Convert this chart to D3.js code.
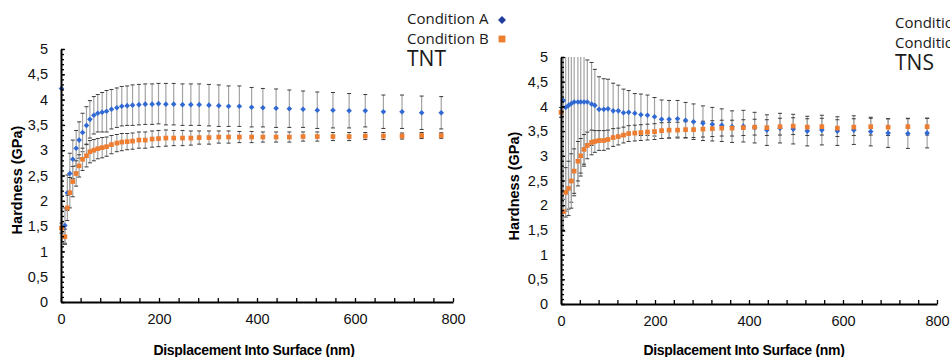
<!DOCTYPE html>
<html>
<head>
<meta charset="utf-8">
<script src="https://cdn.jsdelivr.net/npm/d3@7"></script>
<style>
  body { margin: 0; background: #fff; }
  svg { display: block; }
</style>
</head>
<body>
<div id="chart"></div>
<script>
// values (nm, GPa)
const depthTNT = [1, 8, 13, 18, 24, 31, 37, 44, 52, 59, 67, 75, 84, 93, 103, 114, 124, 135, 146, 159, 172, 186, 199,
  214, 230, 248, 265, 282, 302, 322, 342, 364, 389, 412, 439, 466, 494, 523, 555, 588, 621, 658, 696, 736, 776]
const tntA = [4.22, 1.51, 2.16, 2.54, 2.82, 3.04, 3.20, 3.35, 3.49, 3.61, 3.69, 3.73, 3.75, 3.77, 3.81, 3.84, 3.87, 3.88, 3.89, 3.90, 3.91, 3.91, 3.92,
  3.91, 3.91, 3.90, 3.90, 3.90, 3.89, 3.88, 3.87, 3.87, 3.85, 3.84, 3.83, 3.82, 3.81, 3.79, 3.79, 3.78, 3.78, 3.76, 3.76, 3.74, 3.74]
const tntAErr = [0, 0.35, 0.35, 0.4, 0.38, 0.35, 0.36, 0.38, 0.37, 0.37, 0.37, 0.37, 0.39, 0.41, 0.39, 0.39, 0.39, 0.39, 0.4, 0.4, 0.4, 0.4, 0.4,
  0.41, 0.41, 0.41, 0.41, 0.41, 0.41, 0.41, 0.4, 0.4, 0.39, 0.38, 0.38, 0.37, 0.36, 0.36, 0.35, 0.34, 0.32, 0.33, 0.33, 0.33, 0.32]
const tntB = [1.46, 1.29, 1.86, 2.16, 2.38, 2.54, 2.69, 2.82, 2.89, 2.97, 3.00, 3.03, 3.05, 3.07, 3.11, 3.14, 3.16, 3.17, 3.18, 3.20, 3.20, 3.22, 3.23,
  3.24, 3.24, 3.24, 3.24, 3.25, 3.25, 3.26, 3.26, 3.26, 3.26, 3.26, 3.26, 3.26, 3.27, 3.27, 3.27, 3.27, 3.28, 3.28, 3.28, 3.29, 3.29]
const tntBErr = [0.1, 0.15, 0.25, 0.3, 0.3, 0.25, 0.22, 0.22, 0.22, 0.22, 0.21, 0.2, 0.2, 0.19, 0.18, 0.17, 0.17, 0.16, 0.16, 0.16, 0.16, 0.16, 0.16,
  0.16, 0.15, 0.15, 0.14, 0.13, 0.13, 0.12, 0.12, 0.11, 0.11, 0.1, 0.1, 0.1, 0.09, 0.09, 0.08, 0.08, 0.07, 0.07, 0.06, 0.06, 0.055]

const depthTNS = [0, 5, 10, 16, 22, 28, 36, 42, 49, 56, 65, 72, 81, 91, 100, 111, 122, 133, 144, 157, 170, 184, 199,
  214, 230, 248, 265, 282, 302, 322, 342, 364, 388, 412, 438, 466, 494, 524, 555, 588, 623, 659, 696, 738, 779]
const tnsA = [null, 4.12, 3.98, 4.02, 4.06, 4.09, 4.09, 4.09, 4.09, 4.09, 4.05, 4.02, 3.94, 3.94, 3.95, 3.91, 3.91, 3.87, 3.88, 3.86, 3.83, 3.82, 3.79,
  3.74, 3.74, 3.75, 3.72, 3.69, 3.66, 3.64, 3.62, 3.59, 3.60, 3.57, 3.52, 3.56, 3.54, 3.50, 3.52, 3.50, 3.52, 3.49, 3.46, 3.45, 3.46]
const tnsAErr = [null, 2.0, 2.1, 2.1, 2.0, 1.9, 1.7, 1.5, 1.3, 0.85, 0.84, 0.73, 0.66, 0.62, 0.6, 0.56, 0.52, 0.48, 0.44, 0.4, 0.42, 0.41, 0.39,
  0.39, 0.38, 0.37, 0.36, 0.36, 0.35, 0.34, 0.33, 0.32, 0.32, 0.31, 0.31, 0.3, 0.3, 0.3, 0.3, 0.29, 0.29, 0.29, 0.29, 0.3, 0.3]
const tnsB = [3.88, 1.87, 2.26, 2.34, 2.49, 2.69, 2.89, 3.00, 3.13, 3.21, 3.27, 3.29, 3.31, 3.31, 3.33, 3.37, 3.39, 3.42, 3.45, 3.46, 3.47, 3.48, 3.49,
  3.51, 3.52, 3.52, 3.53, 3.53, 3.54, 3.55, 3.56, 3.56, 3.57, 3.58, 3.57, 3.59, 3.60, 3.58, 3.59, 3.56, 3.58, 3.59, 3.58, 3.59, 3.59]
const tnsBErr = [0.1, 0.4, 0.5, 0.55, 0.55, 0.45, 0.4, 0.35, 0.3, 0.27, 0.25, 0.22, 0.2, 0.2, 0.19, 0.18, 0.17, 0.16, 0.16, 0.16, 0.16, 0.16, 0.16,
  0.16, 0.16, 0.16, 0.16, 0.16, 0.16, 0.16, 0.16, 0.16, 0.16, 0.16, 0.16, 0.17, 0.17, 0.17, 0.17, 0.17, 0.17, 0.17, 0.17, 0.17, 0.17]

const seriesNames = ["Condition A", "Condition B"]
const xTicks = [0, 200, 400, 600, 800]
const yTicks = [0, 0.5, 1, 1.5, 2, 2.5, 3, 3.5, 4, 4.5, 5]

const colA = "#3169d4"
const colALegend = "#1f3c9e"
const colB = "#ed7d31"

const svg = d3.select("#chart").append("svg")
  .attr("width", 950)
  .attr("height", 357)

const commaFmt = d => String(d).replace(".", ",")

function drawPanel(p) {
  const x = d3.scaleLinear().domain([0, 800]).range([p.left, p.right])
  const y = d3.scaleLinear().domain([0, 5]).range([p.bottom, p.top])

  const g = svg.append("g")

  g.append("clipPath").attr("id", "clip" + p.id)
    .append("rect")
      .attr("x", p.left - 10).attr("y", p.top)
      .attr("width", p.right - p.left + 20).attr("height", p.bottom - p.top)

  const plot = g.append("g").attr("clip-path", `url(#clip${p.id})`)

  // error bars, then markers
  const series = [
    {vals: p.a, err: p.aErr, col: colA, shape: "diamond"},
    {vals: p.b, err: p.bErr, col: colB, shape: "square"}
  ]
  series.forEach(s => {
    const rows = p.depth.map((d, i) => ({d, v: s.vals[i], e: s.err[i]})).filter(r => r.v != null)
    const eb = plot.append("g")
    rows.filter(r => r.e > 0).forEach(r => {
      const cx = x(r.d)
      eb.append("line")
        .attr("x1", cx).attr("x2", cx)
        .attr("y1", y(r.v - r.e)).attr("y2", y(r.v + r.e))
        .attr("stroke", "#a3a3a3").attr("stroke-width", 1.2)
      ;[r.v - r.e, r.v + r.e].forEach(t => {
        eb.append("line")
          .attr("x1", cx - 2).attr("x2", cx + 2)
          .attr("y1", y(t)).attr("y2", y(t))
          .attr("stroke", "#3a3a3a").attr("stroke-width", 1)
      })
    })
  })
  series.forEach(s => {
    const rows = p.depth.map((d, i) => ({d, v: s.vals[i]})).filter(r => r.v != null)
    const sym = s.shape == "diamond"
      ? d3.symbol(d3.symbolDiamond2, 20)
      : d3.symbol(d3.symbolSquare2, 28)
    plot.append("g").selectAll("path")
      .data(rows)
      .join("path")
        .attr("d", sym)
        .attr("transform", r => `translate(${x(r.d)},${y(r.v)})`)
        .attr("fill", s.col)
  })

  // axes
  const yMinor = d3.axisLeft(y).tickValues(d3.range(0, 5.001, 0.1)).tickSize(-3).tickFormat("")
  g.append("g").attr("transform", `translate(${p.left},0)`).call(yMinor)
    .call(a => a.select(".domain").remove())
    .call(a => a.selectAll("line").attr("stroke", "#000").attr("stroke-width", 1.3))

  const yAxis = d3.axisLeft(y).tickValues(yTicks).tickSize(-4).tickSizeOuter(0).tickPadding(13).tickFormat(commaFmt)
  g.append("g").attr("transform", `translate(${p.left},0)`).call(yAxis)
    .call(a => a.select(".domain").attr("stroke-width", 2))
    .call(a => a.selectAll("line").attr("stroke-width", 1.3))
    .call(a => a.selectAll("text").attr("font-family", "Liberation Sans, Arial, sans-serif").attr("font-size", 14.5).attr("fill", "#111"))

  const xMinor = d3.axisBottom(x).tickValues(d3.range(0, 801, 40)).tickSize(-4).tickSizeOuter(0).tickFormat("")
  g.append("g").attr("transform", `translate(0,${p.bottom})`).call(xMinor)
    .call(a => a.select(".domain").attr("stroke-width", 2))
    .call(a => a.selectAll("line").attr("stroke-width", 1.3))

  const xAxis = d3.axisBottom(x).tickValues(xTicks).tickSize(0).tickPadding(12)
  g.append("g").attr("transform", `translate(0,${p.bottom})`).call(xAxis)
    .call(a => a.select(".domain").remove())
    .call(a => a.selectAll("text").attr("font-family", "Liberation Sans, Arial, sans-serif").attr("font-size", 14.5).attr("fill", "#111"))

  // titles
  g.append("text")
    .attr("transform", `translate(${p.yTitleX},${p.yTitleY}) rotate(-90)`)
    .attr("text-anchor", "middle")
    .attr("font-family", "Liberation Sans, Arial, sans-serif")
    .attr("font-weight", "bold").attr("font-size", 14.5)
    .text("Hardness (GPa)")

  g.append("text")
    .attr("x", p.xTitleX).attr("y", 355)
    .attr("text-anchor", "middle")
    .attr("font-family", "Liberation Sans, Arial, sans-serif")
    .attr("font-weight", "bold").attr("font-size", 14)
    .attr("letter-spacing", -0.3)
    .text("Displacement Into Surface (nm)")

  // legend
  const lg = g.append("g").attr("font-family", "Open Sans, sans-serif").attr("fill", "#1a1a1a")
  seriesNames.forEach((name, i) => {
    lg.append("text")
      .attr("x", p.legX).attr("y", p.legY + i * 19.5)
      .attr("font-size", 15)
      .text(name)
  })
  lg.append("path")
    .attr("d", d3.symbol(d3.symbolDiamond2, 40))
    .attr("transform", `translate(${p.legX + 95},${p.legY - 4})`)
    .attr("fill", colALegend)
  lg.append("path")
    .attr("d", d3.symbol(d3.symbolSquare2, 60))
    .attr("transform", `translate(${p.legX + 95},${p.legY + 15})`)
    .attr("fill", colB)
  lg.append("text")
    .attr("x", p.legX).attr("y", p.legY + 42)
    .attr("font-size", 21)
    .text(p.name)
}

drawPanel({
  id: "tnt", name: "TNT",
  depth: depthTNT, a: tntA, aErr: tntAErr, b: tntB, bErr: tntBErr,
  left: 61, right: 453, top: 49, bottom: 302,
  yTitleX: 22, yTitleY: 180, xTitleX: 254,
  legX: 407, legY: 24
})

drawPanel({
  id: "tns", name: "TNS",
  depth: depthTNS, a: tnsA, aErr: tnsAErr, b: tnsB, bErr: tnsBErr,
  left: 561, right: 937, top: 57, bottom: 304,
  yTitleX: 519, yTitleY: 186, xTitleX: 744,
  legX: 895, legY: 28
})
</script>
</body>
</html>
